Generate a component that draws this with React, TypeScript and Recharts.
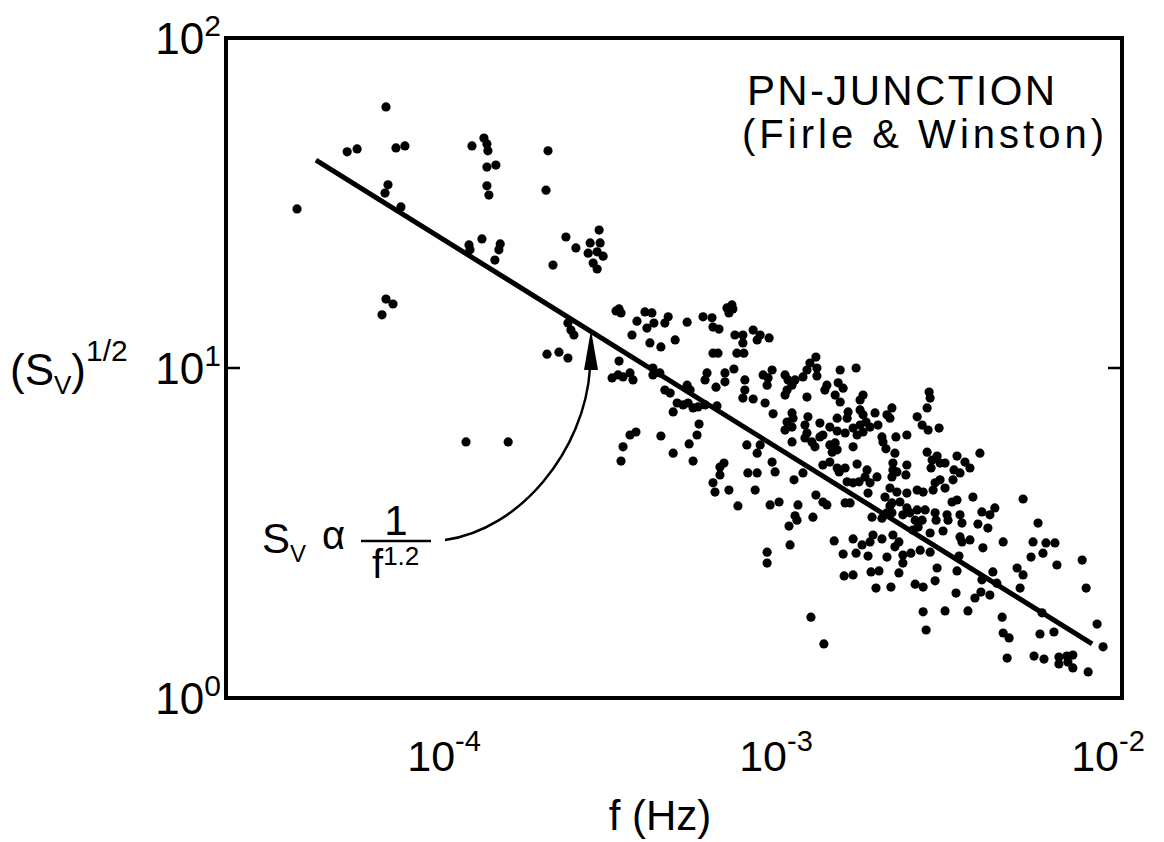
import React from "react";
import { ScatterChart, Scatter, XAxis, YAxis, ReferenceArea } from "recharts";

// Each dot as [log10 f (Hz), log10 (Sv)^1/2]
const lowBand: [number, number][] = [
  [-4.485, 1.482], [-4.217, 1.791], [-4.334, 1.655], [-4.304, 1.664], [-4.187, 1.667], [-4.16, 1.673],
  [-4.211, 1.555], [-4.22, 1.53], [-4.172, 1.488], [-3.958, 1.673], [-3.922, 1.697], [-3.913, 1.679],
  [-3.91, 1.658], [-3.913, 1.609], [-3.886, 1.615], [-3.913, 1.552], [-3.907, 1.524], [-3.729, 1.658],
  [-3.735, 1.539], [-3.967, 1.373], [-3.964, 1.358], [-3.928, 1.391], [-3.873, 1.376], [-3.877, 1.358],
  [-3.889, 1.327], [-3.714, 1.312], [-3.675, 1.397], [-3.645, 1.364], [-3.575, 1.418], [-3.602, 1.379],
  [-3.572, 1.379], [-3.608, 1.348], [-3.581, 1.352], [-3.563, 1.339], [-3.593, 1.318], [-3.581, 1.3],
  [-4.217, 1.209], [-4.196, 1.194], [-4.229, 1.161], [-3.669, 1.136], [-3.66, 1.115], [-3.651, 1.1],
  [-3.732, 1.042], [-3.696, 1.048], [-3.669, 1.03], [-3.976, 0.776], [-3.849, 0.776],
];

const midBand: [number, number][] = [
  [-3.524, 1.173], [-3.509, 1.167], [-3.515, 1.179], [-3.437, 1.17], [-3.416, 1.167], [-3.41, 1.136],
  [-3.431, 1.121], [-3.461, 1.142], [-3.377, 1.136], [-3.367, 1.155], [-3.31, 1.139], [-3.262, 1.155],
  [-3.235, 1.152], [-3.232, 1.124], [-3.214, 1.118], [-3.19, 1.182], [-3.175, 1.191], [-3.184, 1.167],
  [-3.172, 1.179], [-3.476, 1.1], [-3.422, 1.076], [-3.389, 1.064], [-3.346, 1.085], [-3.232, 1.045],
  [-3.217, 1.045], [-3.16, 1.045], [-3.139, 1.045], [-3.166, 1.1], [-3.142, 1.1], [-3.142, 1.076],
  [-3.111, 1.115], [-3.099, 1.085], [-3.09, 1.1], [-3.063, 1.091], [-3.515, 1.021], [-3.536, 0.97],
  [-3.518, 0.979], [-3.503, 0.973], [-3.482, 0.985], [-3.473, 0.964], [-3.413, 1.0], [-3.413, 0.979],
  [-3.392, 0.985], [-3.377, 0.933], [-3.361, 0.924], [-3.31, 0.948], [-3.301, 0.933], [-3.25, 0.985],
  [-3.256, 0.964], [-3.223, 0.942], [-3.196, 0.985], [-3.196, 0.958], [-3.169, 0.997], [-3.136, 0.964],
  [-3.136, 0.933], [-3.142, 0.909], [-3.111, 0.906], [-3.081, 0.979], [-3.066, 0.97], [-3.054, 0.994],
  [-3.069, 0.948], [-3.075, 0.894], [-3.051, 0.861], [-3.34, 0.894], [-3.322, 0.888], [-3.307, 0.894],
  [-3.292, 0.879], [-3.277, 0.882], [-3.256, 0.888], [-3.352, 0.867], [-3.22, 0.885], [-3.274, 0.83],
  [-3.28, 0.797], [-3.304, 0.77], [-3.389, 0.794], [-3.464, 0.806], [-3.482, 0.797], [-3.503, 0.761],
  [-3.509, 0.718], [-3.352, 0.742], [-3.292, 0.718], [-3.13, 0.767], [-3.09, 0.767], [-3.099, 0.742],
  [-3.054, 0.715], [-3.045, 0.685], [-3.199, 0.712], [-3.211, 0.7], [-3.211, 0.676], [-3.127, 0.682],
  [-3.099, 0.682], [-3.232, 0.652], [-3.226, 0.624], [-3.184, 0.63], [-3.105, 0.63], [-3.157, 0.582],
  [-3.06, 0.585], [-3.033, 0.594], [-3.069, 0.442], [-3.069, 0.409],
];

const upperBand: [number, number][] = [
  [-3.015, 0.979], [-3.006, 0.964], [-2.994, 0.948], [-3.009, 0.933], [-2.985, 0.964], [-3.015, 0.918],
  [-2.961, 0.973], [-2.949, 0.994], [-2.94, 1.015], [-2.922, 1.033], [-2.919, 1.0], [-2.919, 0.976],
  [-2.949, 0.912], [-2.849, 0.994], [-2.801, 1.0], [-2.889, 0.948], [-2.895, 0.933], [-2.855, 0.955],
  [-2.84, 0.939], [-2.864, 0.918], [-2.849, 0.897], [-2.789, 0.903], [-2.78, 0.918], [-2.994, 0.864],
  [-2.991, 0.848], [-3.009, 0.836], [-3.015, 0.812], [-2.994, 0.821], [-2.946, 0.852], [-2.955, 0.827],
  [-2.91, 0.833], [-2.858, 0.848], [-2.825, 0.867], [-2.828, 0.848], [-2.88, 0.821], [-2.858, 0.809],
  [-2.834, 0.803], [-2.81, 0.818], [-2.798, 0.797], [-2.789, 0.827], [-2.789, 0.873], [-2.78, 0.858],
  [-2.771, 0.836], [-2.744, 0.864], [-2.735, 0.827], [-2.759, 0.821], [-2.78, 0.806], [-2.708, 0.858],
  [-2.693, 0.879], [-2.699, 0.848], [-2.723, 0.791], [-2.72, 0.776], [-2.711, 0.755], [-2.681, 0.791],
  [-2.648, 0.797], [-2.617, 0.852], [-2.602, 0.827], [-2.584, 0.812], [-2.551, 0.818], [-2.587, 0.879],
  [-2.581, 0.927], [-2.578, 0.909], [-2.949, 0.803], [-2.955, 0.788], [-2.934, 0.776], [-2.925, 0.761],
  [-2.91, 0.791], [-2.901, 0.797], [-2.88, 0.767], [-2.864, 0.773], [-2.858, 0.752], [-2.873, 0.745],
  [-2.81, 0.761], [-2.994, 0.776], [-2.988, 0.661], [-2.961, 0.682], [-2.901, 0.706], [-2.88, 0.715],
  [-2.858, 0.697], [-2.852, 0.685], [-2.834, 0.697], [-2.798, 0.709], [-2.828, 0.655], [-2.81, 0.652],
  [-2.792, 0.655], [-2.774, 0.67], [-2.768, 0.691], [-2.759, 0.652], [-2.738, 0.67], [-2.765, 0.621],
  [-2.684, 0.742], [-2.69, 0.712], [-2.69, 0.691], [-2.693, 0.67], [-2.678, 0.685], [-2.648, 0.706],
  [-2.651, 0.676], [-2.587, 0.745], [-2.572, 0.721], [-2.557, 0.733], [-2.548, 0.712], [-2.533, 0.712],
  [-2.575, 0.697], [-2.563, 0.652], [-2.548, 0.661], [-2.533, 0.636], [-2.509, 0.661], [-2.497, 0.733],
  [-2.506, 0.691], [-2.699, 0.636], [-2.678, 0.624], [-2.648, 0.621], [-2.617, 0.63], [-2.599, 0.624],
  [-2.569, 0.63], [-2.714, 0.609], [-2.693, 0.591], [-2.669, 0.594], [-2.648, 0.576], [-2.639, 0.561],
  [-2.976, 0.585], [-2.985, 0.552], [-2.922, 0.615], [-2.901, 0.594], [-2.889, 0.585], [-2.834, 0.591],
  [-2.819, 0.591], [-2.931, 0.548], [-2.753, 0.548], [-2.708, 0.561], [-2.693, 0.561], [-2.617, 0.57],
  [-2.593, 0.57], [-2.563, 0.561], [-2.527, 0.555], [-2.512, 0.594], [-2.497, 0.6], [-3.0, 0.464],
  [-3.003, 0.521], [-2.979, 0.539], [-2.937, 0.245], [-2.867, 0.476], [-2.84, 0.436], [-2.81, 0.482],
  [-2.801, 0.439], [-2.837, 0.37], [-2.81, 0.373], [-2.898, 0.164],
];

const highBand: [number, number][] = [
  [-2.473, 0.715], [-2.458, 0.697], [-2.488, 0.682], [-2.428, 0.742], [-2.699, 0.582], [-2.66, 0.555],
  [-2.623, 0.539], [-2.602, 0.539], [-2.614, 0.518], [-2.63, 0.509], [-2.56, 0.539], [-2.578, 0.5],
  [-2.539, 0.506], [-2.524, 0.539], [-2.482, 0.53], [-2.488, 0.555], [-2.449, 0.609], [-2.434, 0.527],
  [-2.404, 0.515], [-2.422, 0.564], [-2.398, 0.555], [-2.383, 0.576], [-2.298, 0.603], [-2.253, 0.53],
  [-2.723, 0.545], [-2.783, 0.464], [-2.759, 0.473], [-2.75, 0.494], [-2.723, 0.482], [-2.69, 0.494],
  [-2.765, 0.43], [-2.708, 0.427], [-2.684, 0.458], [-2.672, 0.473], [-2.66, 0.433], [-2.66, 0.409],
  [-2.636, 0.439], [-2.608, 0.448], [-2.578, 0.442], [-2.488, 0.488], [-2.482, 0.473], [-2.458, 0.479],
  [-2.419, 0.455], [-2.358, 0.473], [-2.491, 0.43], [-2.268, 0.473], [-2.229, 0.47], [-2.202, 0.47],
  [-2.238, 0.439], [-2.274, 0.427], [-2.196, 0.403], [-2.316, 0.394], [-2.298, 0.373], [-2.307, 0.333],
  [-2.389, 0.382], [-2.422, 0.358], [-2.557, 0.394], [-2.563, 0.355], [-2.497, 0.385], [-2.756, 0.382],
  [-2.732, 0.385], [-2.672, 0.379], [-2.741, 0.333], [-2.696, 0.336], [-2.623, 0.345], [-2.599, 0.336],
  [-2.5, 0.318], [-2.443, 0.303], [-2.425, 0.321], [-2.398, 0.312], [-2.377, 0.348], [-2.599, 0.261],
  [-2.533, 0.264], [-2.464, 0.264], [-2.361, 0.245], [-2.241, 0.258], [-2.59, 0.206], [-2.12, 0.418],
  [-2.108, 0.333], [-2.358, 0.197], [-2.34, 0.182], [-2.247, 0.194], [-2.205, 0.2], [-2.346, 0.121],
  [-2.265, 0.127], [-2.235, 0.118], [-2.19, 0.124], [-2.19, 0.103], [-2.166, 0.127], [-2.148, 0.13],
  [-2.163, 0.109], [-2.148, 0.091], [-2.102, 0.079], [-2.075, 0.224], [-2.057, 0.155],
];

// ends of the drawn Sv ~ 1/f^1.2 line
const fitLine: [number, number][] = [[-4.428, 1.63], [-2.09, 0.164]];

const xTicks = [1e-4, 1e-3, 1e-2];
const yTicks = [1, 10, 100];

const PLOT_TOP = 38;
const PLOT_RIGHT = 1122;
const FONT = '"Liberation Sans", Arial, sans-serif';

const toPoints = (rows: [number, number][]) => rows.map(([lf, ls]) => ({ f: 10 ** lf, s: 10 ** ls }));
const dots = toPoints([...lowBand, ...midBand, ...upperBand, ...highBand]);
const fit = toPoints(fitLine);

function XTick(props: any) {
  const { x, y, payload } = props;
  const exp = Math.round(Math.log10(payload.value));
  const inner = exp > -2;
  // last label sits at the frame corner, pull it in so it stays on the page
  const cx = inner ? x + 2 : x - 14;
  return (
    <g>
      {inner && <line x1={x} x2={x} y1={y} y2={y - 13} stroke="#000" strokeWidth={2.5} />}
      {inner && <line x1={x} x2={x} y1={PLOT_TOP} y2={PLOT_TOP + 13} stroke="#000" strokeWidth={2.5} />}
      <text x={cx} y={y + 73} textAnchor="middle" fontFamily={FONT} fontSize={43} fill="#000">
        10<tspan dy={-20} fontSize={29}>{exp}</tspan>
      </text>
    </g>
  );
}

function YTick(props: any) {
  const { x, y, payload } = props;
  const exp = Math.round(Math.log10(payload.value));
  const inner = exp === 1;
  return (
    <g>
      {inner && <line x1={x} x2={x + 14} y1={y} y2={y} stroke="#000" strokeWidth={2.5} />}
      {inner && <line x1={PLOT_RIGHT - 14} x2={PLOT_RIGHT} y1={y} y2={y} stroke="#000" strokeWidth={2.5} />}
      <text x={x - 5} y={y + 16} textAnchor="end" fontFamily={FONT} fontSize={44} fill="#000">
        10<tspan dy={-18} fontSize={30}>{exp}</tspan>
      </text>
    </g>
  );
}

const Dot = (p: any) => <circle cx={p.cx} cy={p.cy} r={4.6} fill="#000" />;

export default function App() {
  return (
    <div style={{ position: "absolute", left: 0, top: 0, width: 1164, height: 842, background: "#fff" }}>
      <ScatterChart width={1164} height={842} margin={{ top: 38, right: 42, bottom: 143, left: 225 }}>
        <XAxis
          dataKey="f"
          type="number"
          scale="log"
          domain={[2e-5, 1e-2]}
          allowDataOverflow
          ticks={xTicks}
          interval={0}
          tick={XTick}
          tickLine={false}
          axisLine={false}
          tickSize={0}
          tickMargin={0}
          height={1}
        />
        <YAxis
          dataKey="s"
          type="number"
          scale="log"
          domain={[1, 100]}
          allowDataOverflow
          ticks={yTicks}
          interval={0}
          tick={YTick}
          tickLine={false}
          axisLine={false}
          tickSize={0}
          tickMargin={0}
          width={1}
        />
        <ReferenceArea x1={2e-5} x2={1e-2} y1={1} y2={100} fill="none" stroke="#000" strokeWidth={4} ifOverflow="visible" />
        <Scatter data={dots} fill="#000" shape={Dot} isAnimationActive={false} />
        <Scatter
          data={fit}
          line={{ stroke: "#000", strokeWidth: 5 }}
          shape={() => <g />}
          isAnimationActive={false}
        />
      </ScatterChart>
      <svg
        width={1164}
        height={842}
        style={{ position: "absolute", left: 0, top: 0, pointerEvents: "none" }}
        fontFamily={FONT}
        fill="#000"
      >
        <text x={901} y={105} fontSize={42} textAnchor="middle" textLength={308} lengthAdjust="spacing">
          PN-JUNCTION
        </text>
        <text x={923} y={148} fontSize={40} textAnchor="middle" textLength={362} lengthAdjust="spacing">
          {"(Firle & Winston)"}
        </text>
        <text x={10} y={385} fontSize={44}>
          (S<tspan fontSize={26} dy={9}>V</tspan>
          <tspan dy={-9}>)</tspan>
          <tspan fontSize={30} dy={-24}>1/2</tspan>
        </text>
        <text x={660} y={830} fontSize={42} textAnchor="middle">f (Hz)</text>
        <text x={262} y={553} fontSize={42}>
          S<tspan fontSize={24} dy={9}>V</tspan>
        </text>
        <text x={322} y={549} fontSize={40}>α</text>
        <text x={396} y={535} fontSize={42} textAnchor="middle">1</text>
        <line x1={361} y1={541} x2={431} y2={541} stroke="#000" strokeWidth={2.5} />
        <text x={372} y={578} fontSize={40}>
          f<tspan fontSize={26} dy={-13}>1.2</tspan>
        </text>
        <path d="M 445 540 C 520 530, 585 450, 590 368" fill="none" stroke="#000" strokeWidth={2.5} />
        <polygon points="591,330 584,370 598,370" fill="#000" />
      </svg>
    </div>
  );
}
